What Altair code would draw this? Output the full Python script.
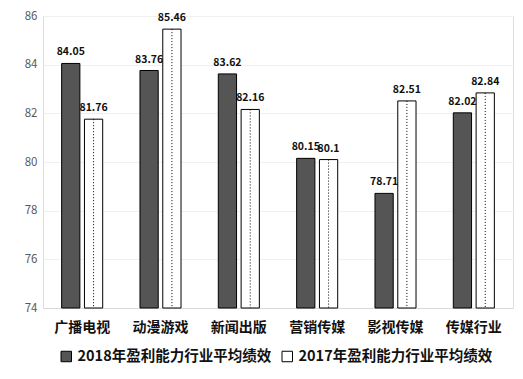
import altair as alt
import pandas as pd

categories = ["广播电视", "动漫游戏", "新闻出版", "营销传媒", "影视传媒", "传媒行业"]
series = ["2018年盈利能力行业平均绩效", "2017年盈利能力行业平均绩效"]
values_2018 = [84.05, 83.76, 83.62, 80.15, 78.71, 82.02]
values_2017 = [81.76, 85.46, 82.16, 80.1, 82.51, 82.84]

rows = []
for c, a, b in zip(categories, values_2018, values_2017):
    rows.append({"cat": c, "series": series[0], "value": a})
    rows.append({"cat": c, "series": series[1], "value": b})
df = pd.DataFrame(rows)

FONT = "Noto Sans CJK SC"

x_enc = alt.X("cat:N", sort=categories, title=None,
              scale=alt.Scale(paddingInner=0.476, paddingOuter=0.238),
              axis=alt.Axis(labelAngle=0, labelFontSize=14, labelFont=FONT,
                            labelColor="#111", labelFontWeight="bold",
                            ticks=False, domain=True, domainColor="#d9d9d9",
                            labelPadding=12))
xo_enc = alt.XOffset("series:N", sort=series,
                     scale=alt.Scale(paddingInner=0.2, paddingOuter=0))
y_scale = alt.Scale(domain=[74, 86], zero=False, nice=False)

base = alt.Chart(df)

bars = base.mark_bar(stroke="black", strokeWidth=1).encode(
    x=x_enc,
    xOffset=xo_enc,
    y=alt.Y("value:Q", scale=y_scale, title=None,
            axis=alt.Axis(values=[74, 76, 78, 80, 82, 84, 86], domain=False, ticks=False,
                          labelFontSize=11.5, labelFont=FONT, labelColor="#595959",
                          gridColor="#f0f0f0", labelPadding=6)),
    y2=alt.datum(74),
    fill=alt.Fill("series:N", sort=series,
                  scale=alt.Scale(domain=series, range=["#555555", "#ffffff"]),
                  legend=alt.Legend(title=None, orient="none", legendX=16, legendY=333,
                                    direction="horizontal", symbolType="square",
                                    symbolSize=110, symbolStrokeColor="black",
                                    symbolStrokeWidth=1, labelFontSize=14.5,
                                    labelFont=FONT, labelFontWeight="bold",
                                    labelColor="#111", columnPadding=8,
                                    labelLimit=300)),
)

dots = base.transform_filter(alt.datum.series == series[1]).mark_rule(
    color="black", strokeDash=[1, 2], strokeWidth=1
).encode(
    x=x_enc,
    xOffset=xo_enc,
    y=alt.Y("value:Q", scale=y_scale),
    y2=alt.datum(74),
)

labels = base.mark_text(baseline="bottom", dy=-6, fontSize=10.5, font=FONT,
                        fontWeight="bold", color="#111").encode(
    x=x_enc,
    xOffset=xo_enc,
    y=alt.Y("value:Q", scale=y_scale),
    text=alt.Text("value:N"),
)

chart = alt.layer(bars, dots, labels).properties(
    width=470, height=292,
    autosize=alt.AutoSizeParams(type="none"),
    padding={"left": 35, "top": 8, "right": 2, "bottom": 56},
).configure_view(stroke=None).configure(font=FONT)

chart.save("out.html", embed_options={"renderer": "svg", "actions": False})
